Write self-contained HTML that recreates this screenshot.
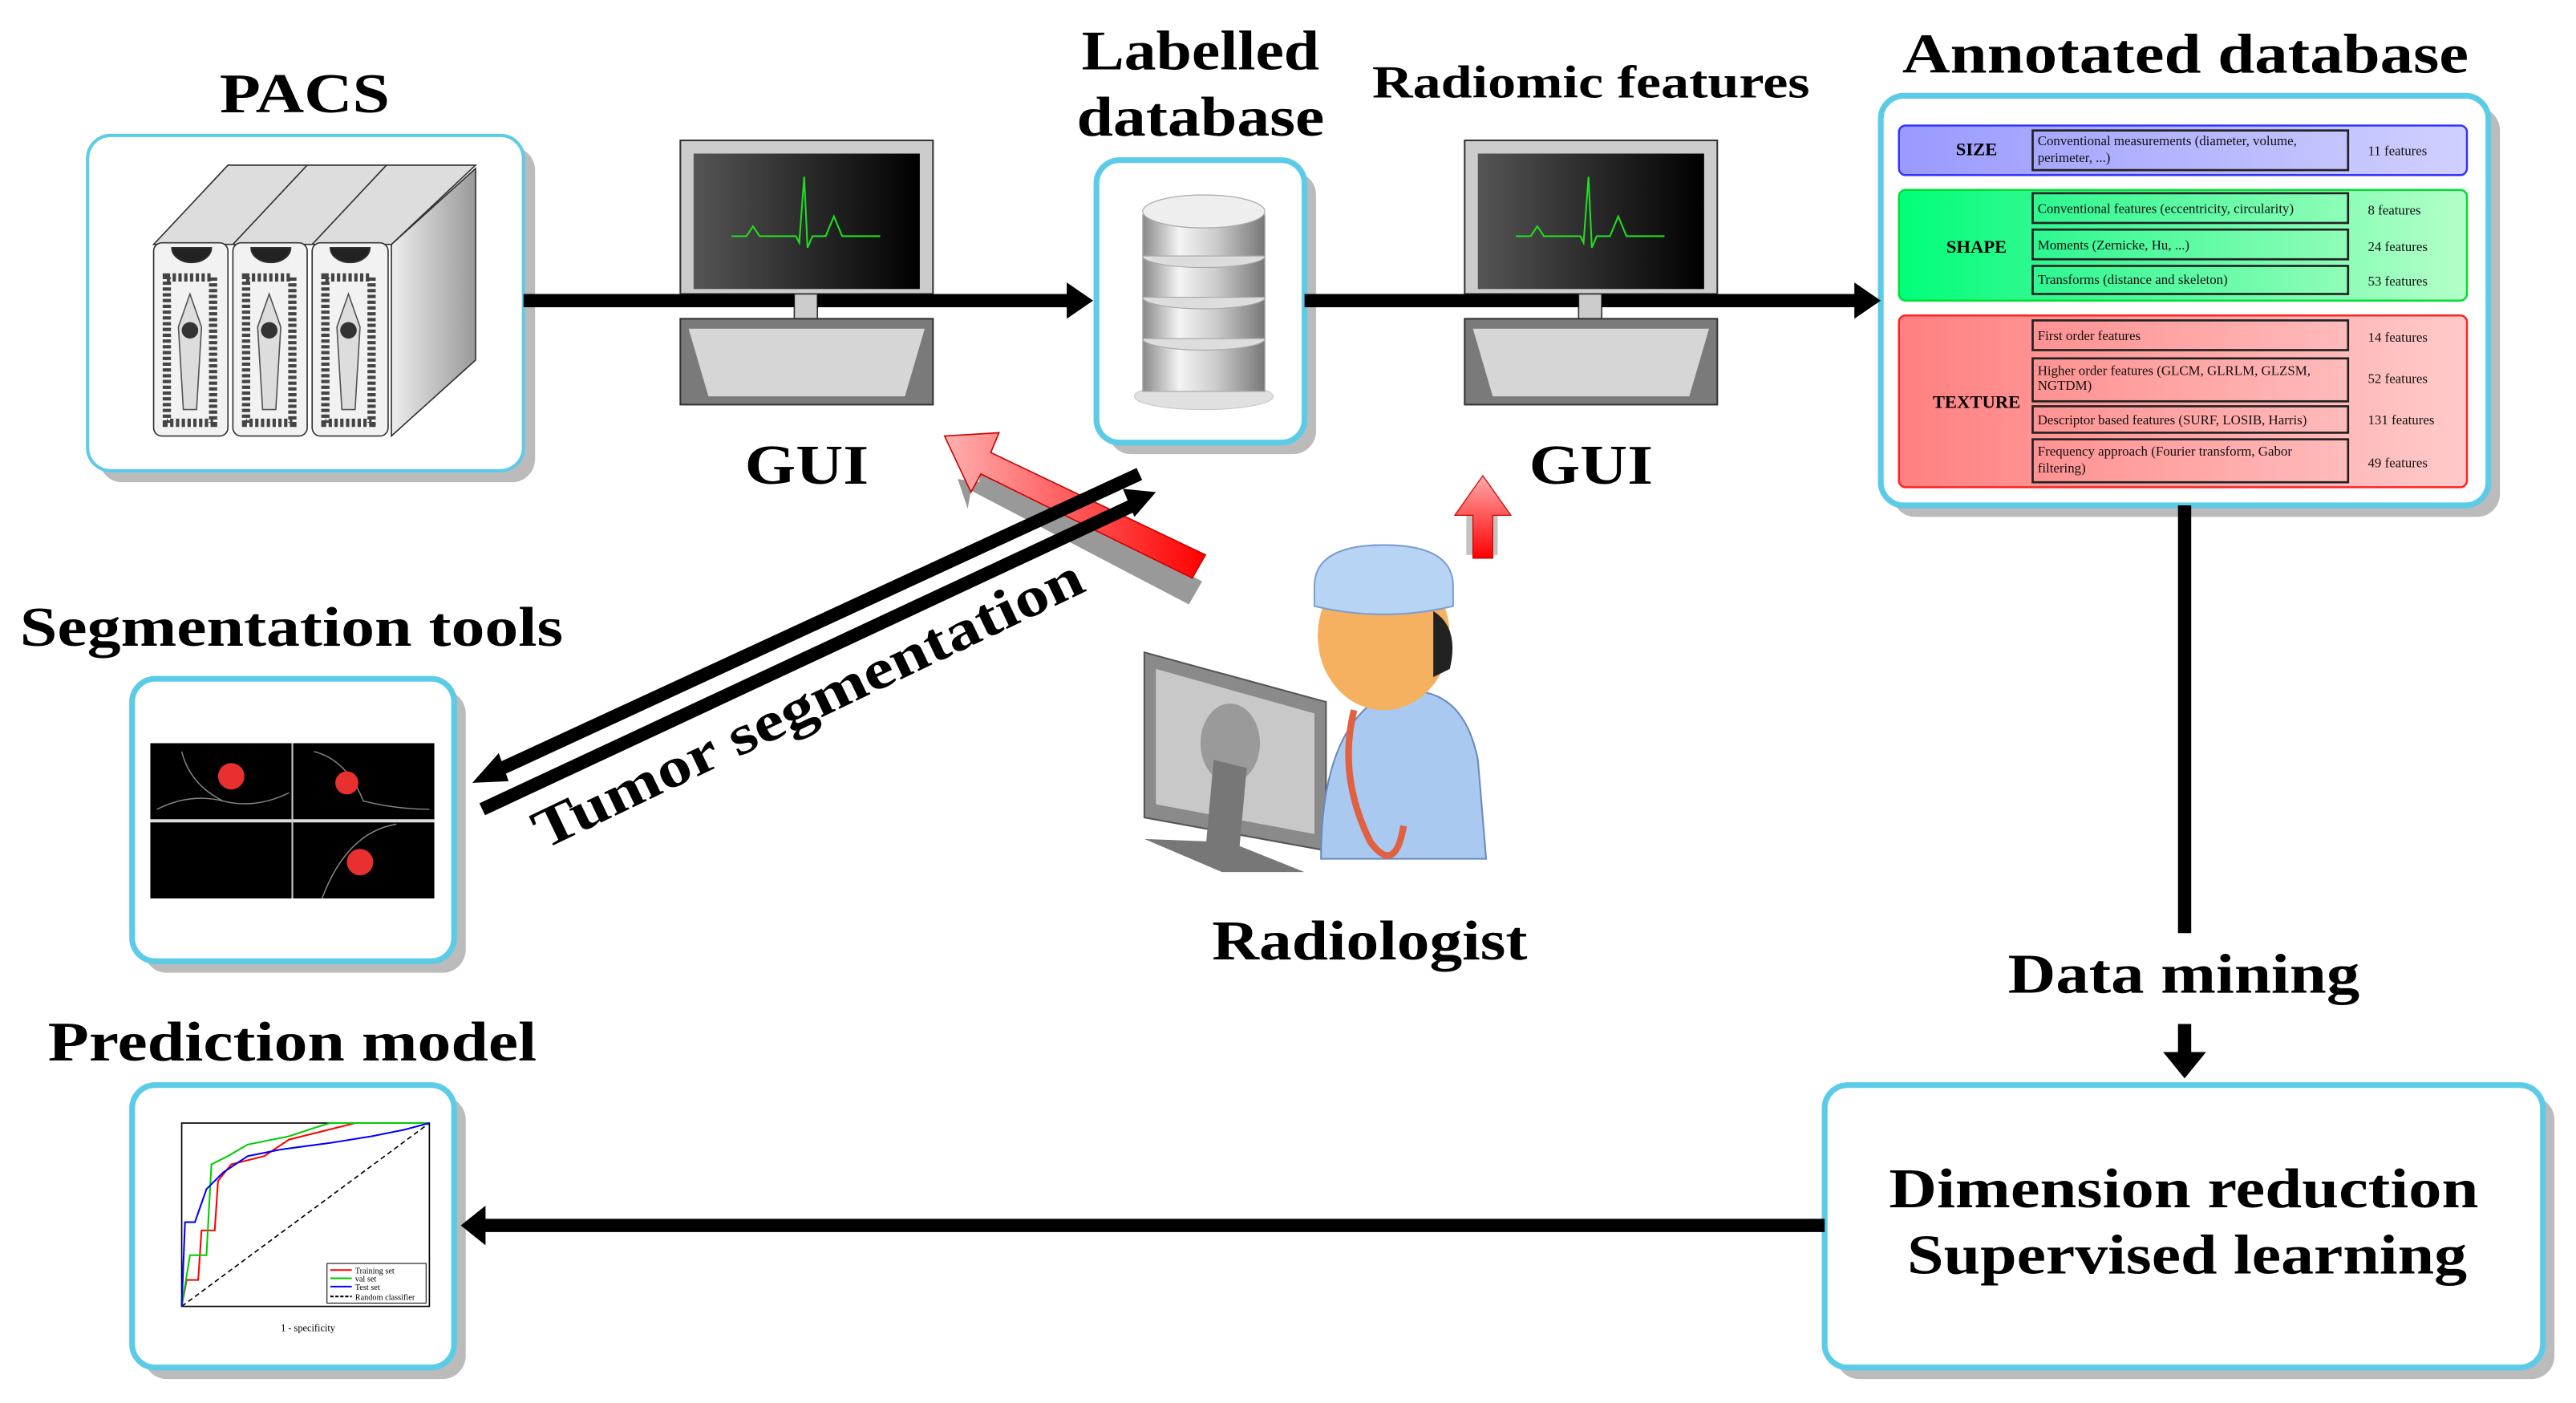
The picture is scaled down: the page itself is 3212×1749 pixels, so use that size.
<!DOCTYPE html>
<html><head><meta charset="utf-8"><style>
html,body{margin:0;padding:0;background:#fff;}
svg{display:block;}
text{font-family:"Liberation Serif",serif;}
</style></head><body>
<svg width="3212" height="1749" viewBox="0 0 1560 849.5" xmlns="http://www.w3.org/2000/svg">
<defs>
<linearGradient id="scr" x1="0" x2="1"><stop offset="0" stop-color="#555"/><stop offset="1" stop-color="#000"/></linearGradient>
<linearGradient id="side" x1="0" x2="1"><stop offset="0" stop-color="#eee"/><stop offset="1" stop-color="#999"/></linearGradient>
<linearGradient id="cyl" x1="0" x2="1"><stop offset="0" stop-color="#888"/><stop offset="0.3" stop-color="#f4f4f4"/><stop offset="0.6" stop-color="#ccc"/><stop offset="1" stop-color="#777"/></linearGradient>
<linearGradient id="gsize" x1="0" x2="1"><stop offset="0" stop-color="#9a9aff"/><stop offset="1" stop-color="#d0d0ff"/></linearGradient>
<linearGradient id="gshape" x1="0" x2="1"><stop offset="0" stop-color="#00ff78"/><stop offset="0.25" stop-color="#30f890"/><stop offset="1" stop-color="#b4ffc8"/></linearGradient>
<linearGradient id="gtex" x1="0" x2="1"><stop offset="0" stop-color="#ff8080"/><stop offset="1" stop-color="#ffcaca"/></linearGradient>
<linearGradient id="redarr" x1="0" x2="1"><stop offset="0" stop-color="#ffb0b0"/><stop offset="1" stop-color="#ff0000"/></linearGradient>
<linearGradient id="redup" x1="0" y1="1" x2="0" y2="0"><stop offset="0" stop-color="#ff0000"/><stop offset="1" stop-color="#ffaaaa"/></linearGradient>
</defs>

<g fill="#bbb">
<rect x="60" y="89" width="264" height="203" rx="14"/>
<rect x="671" y="104" width="126" height="171" rx="14"/>
<rect x="1146" y="65" width="368" height="248" rx="14"/>
<rect x="87" y="418" width="195" height="171" rx="14"/>
<rect x="87" y="664" width="195" height="171" rx="14"/>
<rect x="1112" y="664" width="435" height="171" rx="14"/>
</g>
<g fill="#fff" stroke="#5ccbe8" stroke-width="3.5">
<rect x="53" y="82" width="264" height="203" rx="14" stroke-width="2"/>
<rect x="664" y="97" width="126" height="171" rx="14"/>
<rect x="1139" y="58" width="368" height="248" rx="14"/>
<rect x="80" y="411" width="195" height="171" rx="14"/>
<rect x="80" y="657" width="195" height="171" rx="14"/>
<rect x="1105" y="657" width="435" height="171" rx="14"/>
</g>

<g font-weight="bold" fill="#000" lengthAdjust="spacingAndGlyphs">
<text x="133" y="68" font-size="34" textLength="103" lengthAdjust="spacingAndGlyphs">PACS</text>
<text x="655" y="42" font-size="34" textLength="144" lengthAdjust="spacingAndGlyphs">Labelled</text>
<text x="652" y="82" font-size="34" textLength="150" lengthAdjust="spacingAndGlyphs">database</text>
<text x="831" y="59" font-size="28" textLength="265" lengthAdjust="spacingAndGlyphs">Radiomic features</text>
<text x="1152" y="44" font-size="34" textLength="343" lengthAdjust="spacingAndGlyphs">Annotated database</text>
<text x="451" y="293" font-size="34" textLength="75" lengthAdjust="spacingAndGlyphs">GUI</text>
<text x="926" y="293" font-size="34" textLength="75" lengthAdjust="spacingAndGlyphs">GUI</text>
<text x="12" y="391" font-size="34" textLength="329" lengthAdjust="spacingAndGlyphs">Segmentation tools</text>
<text x="29" y="642" font-size="34" textLength="296" lengthAdjust="spacingAndGlyphs">Prediction model</text>
<text x="734" y="581" font-size="34" textLength="191" lengthAdjust="spacingAndGlyphs">Radiologist</text>
<text x="1216" y="601" font-size="34" textLength="213" lengthAdjust="spacingAndGlyphs">Data mining</text>
<text x="1144" y="731" font-size="34" textLength="357" lengthAdjust="spacingAndGlyphs">Dimension reduction</text>
<text x="1155" y="771" font-size="34" textLength="339" lengthAdjust="spacingAndGlyphs">Supervised learning</text>
</g>

<g stroke="#333" stroke-width="0.8">
<polygon points="237,148 288,102 288,218 237,264" fill="url(#side)"/>
<g fill="#ddd">
<polygon points="93,148 138,100 187,100 141,148"/>
<polygon points="141,148 186,100 236,100 189,148"/>
<polygon points="189,148 234,100 288,100 237,148"/>
</g>
<g fill="#f2f2f2">
<rect x="93" y="147" width="45" height="117" rx="5"/>
<rect x="141" y="147" width="45" height="117" rx="5"/>
<rect x="189" y="147" width="46" height="117" rx="5"/>
</g>
<g fill="#222">
<path d="M104,150 a12,9 0 0 0 24,0z"/><path d="M152,150 a12,9 0 0 0 24,0z"/><path d="M200,150 a12,9 0 0 0 24,0z"/>
</g>
</g>
<g fill="none" stroke="#444" stroke-width="5" stroke-dasharray="2,1.5">
<rect x="101" y="168" width="28" height="88"/><rect x="149" y="168" width="28" height="88"/><rect x="197" y="168" width="28" height="88"/>
</g>
<g fill="#ddd" stroke="#555" stroke-width="0.8">
<path d="M115,178 l7,20 -3,50 -8,0 -3,-50z"/><path d="M163,178 l7,20 -3,50 -8,0 -3,-50z"/><path d="M211,178 l7,20 -3,50 -8,0 -3,-50z"/>
</g>
<g fill="#333"><circle cx="115" cy="200" r="5"/><circle cx="163" cy="200" r="5"/><circle cx="211" cy="200" r="5"/></g>

<g stroke="#000" stroke-width="8" fill="none">
<line x1="317" y1="182" x2="648" y2="182"/>
<line x1="790" y1="182" x2="1125" y2="182"/>
<line x1="1323" y1="306" x2="1323" y2="565"/>
<line x1="1323" y1="620" x2="1323" y2="640"/>
<line x1="1105" y1="742" x2="292" y2="742"/>
</g>
<g fill="#000">
<polygon points="646,171 662,182 646,193"/>
<polygon points="1123,171 1139,182 1123,193"/>
<polygon points="1310,637 1323,653 1336,637"/>
<polygon points="294,730 279,742 294,754"/>
</g>

<g id="mon">
<rect x="412" y="85" width="153" height="93" fill="#ccc" stroke="#333" stroke-width="1"/>
<rect x="420" y="93" width="137" height="82" fill="url(#scr)"/>
<polyline points="443,143 452,143 456,137 460,143 482,143 484,147 487,107 489,150 492,143 500,143 505,131 510,143 518,143 533,143" fill="none" stroke="#2d2" stroke-width="1"/>
<rect x="481" y="178" width="14" height="15" fill="#ccc" stroke="#333" stroke-width="0.8"/>
<rect x="412" y="193" width="153" height="52" fill="#7a7a7a" stroke="#333" stroke-width="1"/>
<polygon points="417,199 560,199 548,240 429,240" fill="#d6d6d6"/>
</g>
<use href="#mon" x="475"/>
<g stroke="#000" stroke-width="8"><line x1="412" y1="182" x2="481" y2="182"/><line x1="495" y1="182" x2="565" y2="182"/><line x1="887" y1="182" x2="956" y2="182"/><line x1="970" y1="182" x2="1040" y2="182"/></g>

<g stroke="#aaa" stroke-width="0.6">
<ellipse cx="729" cy="240" rx="42" ry="8" fill="#ccc" opacity="0.6"/>
<rect x="692" y="205" width="74" height="32" fill="url(#cyl)"/>
<ellipse cx="729" cy="205" rx="37" ry="7" fill="#ddd"/>
<rect x="692" y="180" width="74" height="25" fill="url(#cyl)"/>
<ellipse cx="729" cy="180" rx="37" ry="7" fill="#ddd"/>
<rect x="692" y="155" width="74" height="25" fill="url(#cyl)"/>
<ellipse cx="729" cy="155" rx="37" ry="7" fill="#ddd"/>
<rect x="692" y="130" width="74" height="25" fill="url(#cyl)"/>
<ellipse cx="729" cy="128" rx="37" ry="10" fill="#eee"/>
</g>

<g stroke-width="1.2">
<rect x="1150" y="76" width="344" height="30" rx="4" fill="url(#gsize)" stroke="#3333ff"/>
<rect x="1150" y="115" width="344" height="67" rx="4" fill="url(#gshape)" stroke="#00dd33"/>
<rect x="1150" y="191" width="344" height="104" rx="4" fill="url(#gtex)" stroke="#ff2222"/>
</g>
<g fill="none" stroke="#222" stroke-width="1.3">
<rect x="1231" y="79" width="191" height="24"/>
<rect x="1231" y="117" width="191" height="18"/>
<rect x="1231" y="139" width="191" height="18"/>
<rect x="1231" y="161" width="191" height="17"/>
<rect x="1231" y="194" width="191" height="18"/>
<rect x="1231" y="217" width="191" height="26"/>
<rect x="1231" y="246" width="191" height="16"/>
<rect x="1231" y="266" width="191" height="26"/>
</g>
<g font-size="8.2" fill="#111">
<text x="1234" y="88">Conventional measurements (diameter, volume,</text>
<text x="1234" y="98">perimeter, ...)</text>
<text x="1234" y="129">Conventional features (eccentricity, circularity)</text>
<text x="1234" y="151">Moments (Zernicke, Hu, ...)</text>
<text x="1234" y="172">Transforms (distance and skeleton)</text>
<text x="1234" y="206">First order features</text>
<text x="1234" y="227">Higher order features (GLCM, GLRLM, GLZSM,</text>
<text x="1234" y="236">NGTDM)</text>
<text x="1234" y="257">Descriptor based features (SURF, LOSIB, Harris)</text>
<text x="1234" y="276">Frequency approach (Fourier transform, Gabor</text>
<text x="1234" y="286">filtering)</text>
<text x="1434" y="94">11 features</text>
<text x="1434" y="130">8 features</text>
<text x="1434" y="152">24 features</text>
<text x="1434" y="173">53 features</text>
<text x="1434" y="207">14 features</text>
<text x="1434" y="232">52 features</text>
<text x="1434" y="257">131 features</text>
<text x="1434" y="283">49 features</text>
</g>
<g font-size="11" font-weight="bold" fill="#000" text-anchor="middle">
<text x="1197" y="94">SIZE</text>
<text x="1197" y="153">SHAPE</text>
<text x="1197" y="247">TEXTURE</text>
</g>

<rect x="91" y="450" width="172" height="94" fill="#000"/>
<line x1="91" y1="497" x2="263" y2="497" stroke="#ddd" stroke-width="2"/>
<line x1="177" y1="450" x2="177" y2="544" stroke="#ccc" stroke-width="1"/>
<g fill="none" stroke="#888" stroke-width="0.7">
<path d="M95,490 q20,-10 40,-5 q20,5 40,-5"/><path d="M110,455 q5,20 25,30"/><path d="M190,455 q20,5 30,30 q20,5 40,5"/><path d="M195,544 q15,-40 45,-45"/>
</g>
<g fill="#e83030"><circle cx="140" cy="470" r="8"/><circle cx="210" cy="474" r="7"/><circle cx="218" cy="522" r="8"/></g>

<rect x="110" y="680" width="150" height="111" fill="#fff" stroke="#000" stroke-width="0.8"/>
<line x1="110" y1="791" x2="260" y2="680" stroke="#000" stroke-width="0.8" stroke-dasharray="3,2"/>
<polyline points="110,791 113,775 120,775 122,745 130,745 132,715 140,705 160,700 175,690 195,685 215,680 260,680" fill="none" stroke="#f00" stroke-width="1"/>
<polyline points="110,791 115,760 125,760 128,705 138,700 150,693 175,688 190,683 200,680 260,680" fill="none" stroke="#0c0" stroke-width="1"/>
<polyline points="110,791 112,740 118,740 125,720 135,710 150,700 170,696 200,692 225,688 245,684 260,680" fill="none" stroke="#00f" stroke-width="1"/>
<rect x="198" y="765" width="60" height="24" fill="#fff" stroke="#000" stroke-width="0.5"/>
<g font-size="5" font-family="Liberation Sans,sans-serif"><text x="215" y="771">Training set</text><text x="215" y="776">val set</text><text x="215" y="781">Test set</text><text x="215" y="787">Random classifier</text>
<text x="170" y="806" font-size="6">1 - specificity</text></g>
<g stroke-width="1"><line x1="200" y1="769" x2="213" y2="769" stroke="#f00"/><line x1="200" y1="774" x2="213" y2="774" stroke="#0c0"/><line x1="200" y1="779" x2="213" y2="779" stroke="#00f"/><line x1="200" y1="785" x2="213" y2="785" stroke="#000" stroke-dasharray="2,1"/></g>

<polygon points="580,290 593,292 594,281 728,352 720,366 588,297 586,308" fill="#555" opacity="0.6"/>
<polygon points="572,264 605,262 600,274 730,336 722,350 594,287 588,298" fill="url(#redarr)" stroke="#c00" stroke-width="0.8"/>
<rect x="888" y="306" width="19" height="30" fill="#888" opacity="0.5"/>
<polygon points="892,338 892,312 881,312 898,288 915,312 904,312 904,338" fill="url(#redup)" stroke="#c00" stroke-width="0.6"/>

<g stroke="#000" stroke-width="8">
<line x1="690" y1="287" x2="300" y2="467"/>
<line x1="292" y1="490" x2="686" y2="306"/>
</g>
<polygon points="286,474 302,456 308,473" fill="#000"/>
<polygon points="700,298 680,296 687,313" fill="#000"/>
<text x="0" y="0" font-size="34" font-weight="bold" transform="translate(494,436) rotate(-25.5)" text-anchor="middle" textLength="365" lengthAdjust="spacingAndGlyphs">Tumor segmentation</text>

<polygon points="693,395 803,425 803,515 693,495" fill="#8a8a8a" stroke="#555"/>
<polygon points="700,405 796,432 796,505 700,487" fill="#c8c8c8"/>
<ellipse cx="745" cy="450" rx="18" ry="24" fill="#9a9a9a"/>
<polygon points="735,460 755,465 750,520 730,515" fill="#777"/>
<polygon points="693,508 745,510 790,528 740,528" fill="#777"/>
<path d="M800,520 q0,-80 40,-100 q45,-10 55,40 l5,60z" fill="#a9c9f0" stroke="#6a8ac0"/>
<ellipse cx="838" cy="385" rx="40" ry="45" fill="#f5b060"/>
<path d="M868,370 q16,10 10,35 l-10,5z" fill="#222"/>
<path d="M796,355 q0,-25 42,-25 q42,0 42,25 l0,12 q-42,10 -84,0z" fill="#b8d4f5" stroke="#7aa0d0"/>
<path d="M820,430 q-10,40 10,80 q15,20 20,-10" fill="none" stroke="#e06040" stroke-width="4"/>
</svg>
</body></html>
